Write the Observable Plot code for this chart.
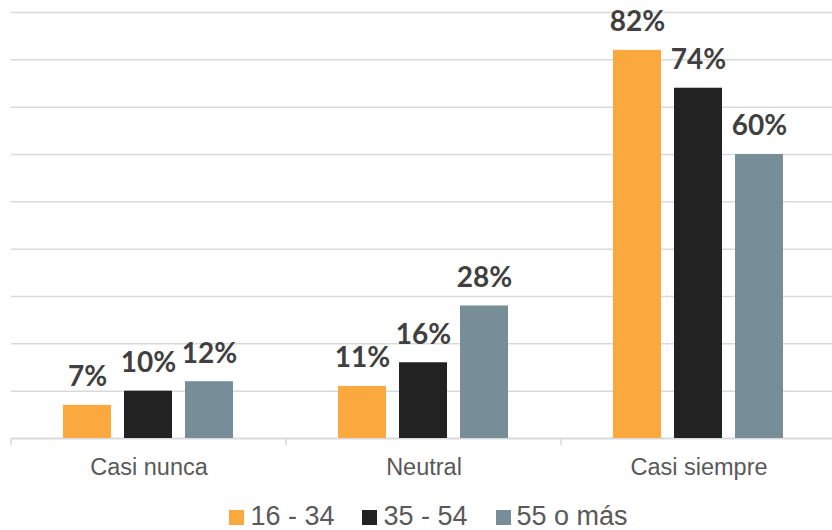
<!DOCTYPE html>
<html><head><meta charset="utf-8">
<script src="https://cdn.jsdelivr.net/npm/d3@7"></script>
<script src="https://cdn.jsdelivr.net/npm/@observablehq/plot@0.6"></script>
<style>
body{margin:0;background:#fff;overflow:hidden;}
#legend{display:flex;justify-content:center;align-items:center;height:28px;line-height:28px;padding-left:25px;font-family:'Liberation Sans',Arial,sans-serif;font-size:27px;color:#595959;}
#legend .item{display:flex;align-items:center;margin:0 14px;}
#legend .sw{width:15px;height:15px;margin-right:6px;margin-top:3px;}
</style>
</head><body><div id="chart"></div><div id="legend"></div>
<script>
const categories = ["Casi nunca", "Neutral", "Casi siempre"];
const series = ["16 - 34", "35 - 54", "55 o más"];
const values1634 = [7, 11, 82];
const values3554 = [10, 16, 74];
const values55 = [12, 28, 60];
const colors = ["#FBA93F", "#222222", "#778D98"];
const gridTicks = [10, 20, 30, 40, 50, 60, 70, 80, 90];

const seriesValues = [values1634, values3554, values55];
const data = categories.flatMap((c, i) => series.map((s, j) => ({category: c, group: s, value: seriesValues[j][i]})));

const chart = Plot.plot({
  width: 832, height: 502,
  marginLeft: 11, marginRight: -4, marginTop: 12, marginBottom: 64,
  style: {fontFamily: "'Liberation Sans', Arial, sans-serif", background: "#fff"},
  fx: {domain: categories, padding: 0, label: null},
  x: {domain: series, paddingInner: 0.213, paddingOuter: 0.86, axis: null},
  y: {domain: [0, 90], axis: null},
  color: {domain: series, range: colors},
  marks: [
    Plot.gridY(gridTicks, {stroke: "#d9d9d9", strokeOpacity: 1, strokeWidth: 1.5}),
    Plot.ruleY([0], {stroke: "#d9d9d9", strokeWidth: 2}),
    Plot.barY(data, {fx: "category", x: "group", y: "value", fill: "group"}),
    Plot.text(data, {fx: "category", x: "group", y: "value", text: d => d.value + "%", dy: -28, fontSize: 28, fontWeight: "bold", fill: "#404040", fontFamily: "Lato, 'Open Sans', sans-serif"}),
    Plot.axisFx({anchor: "bottom", tickSize: 0, tickPadding: 20, fontSize: 23.5, fill: "#595959", label: null})
  ]
});
document.getElementById("chart").appendChild(chart);

// boundary ticks on baseline, from the library's scales
const fx = chart.scale("fx");
const y = chart.scale("y");
const y0 = y.apply(0);
const bounds = categories.map(c => fx.apply(c));
bounds.push(fx.apply(categories[categories.length - 1]) + fx.bandwidth);
d3.select(chart).append("g").selectAll("line").data(bounds).join("line")
  .attr("x1", d => d).attr("x2", d => d)
  .attr("y1", y0).attr("y2", y0 + 7)
  .attr("stroke", "#d9d9d9").attr("stroke-width", 1.5);

const legend = d3.select("#legend");
series.forEach((s, i) => {
  const it = legend.append("div").attr("class", "item");
  it.append("div").attr("class", "sw").style("background", colors[i]);
  it.append("span").text(s);
});
</script>
</body></html>
